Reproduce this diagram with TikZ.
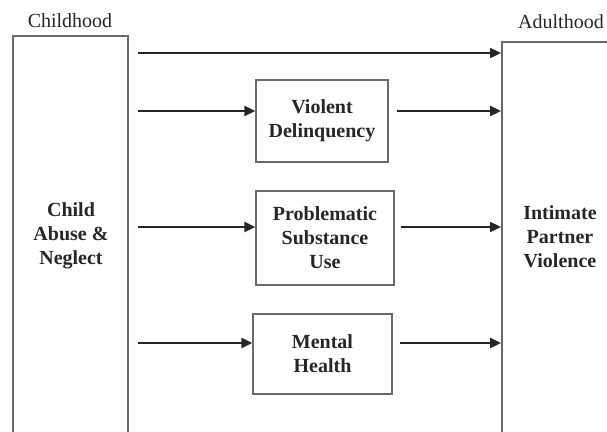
\documentclass[tikz,border=0pt]{standalone}
\usepackage{fontspec}
\setmainfont{Liberation Serif}
\usetikzlibrary{arrows.meta}
\definecolor{ink}{HTML}{262626}
\definecolor{frame}{HTML}{6A6A6A}
\tikzset{
  mbox/.style={draw=frame, line width=1.4pt, align=center, text=ink,
    font=\fontsize{20}{24}\selectfont\bfseries, inner sep=0pt},
  lbl/.style={align=center, text=ink, font=\fontsize{20}{24}\selectfont\bfseries},
  period/.style={text=ink, font=\fontsize{20}{24}\selectfont},
  arr/.style={draw=ink, line width=2.3pt, -{Triangle[length=11pt,width=10pt]}},
  openbox/.style={draw=frame, line width=1.4pt},
}
\begin{document}
\begin{tikzpicture}[x=1pt,y=-1pt]
\useasboundingbox (0,0) rectangle (607,431);
% period labels
\node[period] (child) at (70,21) {Childhood};
\node[period] (adult) at (561,22) {Adulthood};
% open outer boxes
\draw[openbox] (13,432) -- (13,36) -- (128,36) -- (128,432);
\draw[openbox] (608,42) -- (502,42) -- (502,432);
\node[lbl] (can) at (71,236) {Child\\Abuse \&\\Neglect};
\node[lbl] (ipv) at (560,237) {Intimate\\Partner\\Violence};
% middle boxes
\node[mbox, minimum width=132pt, minimum height=82pt] (vd) at (322,121) {Violent\\Delinquency};
\node[mbox, minimum width=138pt, minimum height=94pt] (psu) at (325,238) {Problematic\\Substance\\Use};
\node[mbox, minimum width=139pt, minimum height=80pt] (mh) at (322.5,354) {Mental\\Health};
% connector end points
\coordinate (s1) at (138,53);  \coordinate (e1) at (501,53);
\coordinate (s2) at (138,111); \coordinate (e2) at (501,111);
\coordinate (s3) at (138,227); \coordinate (e3) at (501,227);
\coordinate (s4) at (138,343); \coordinate (e4) at (501,343);
\coordinate (r2) at (397,111);
\coordinate (r3) at (401,227);
\coordinate (r4) at (400,343);
% connectors
\draw[arr] (s1) -- (e1);
\draw[arr] (s2) -- (s2 -| vd.west);
\draw[arr] (r2) -- (e2);
\draw[arr] (s3) -- (s3 -| psu.west);
\draw[arr] (r3) -- (e3);
\draw[arr] (s4) -- (s4 -| mh.west);
\draw[arr] (r4) -- (e4);
\end{tikzpicture}
\end{document}
